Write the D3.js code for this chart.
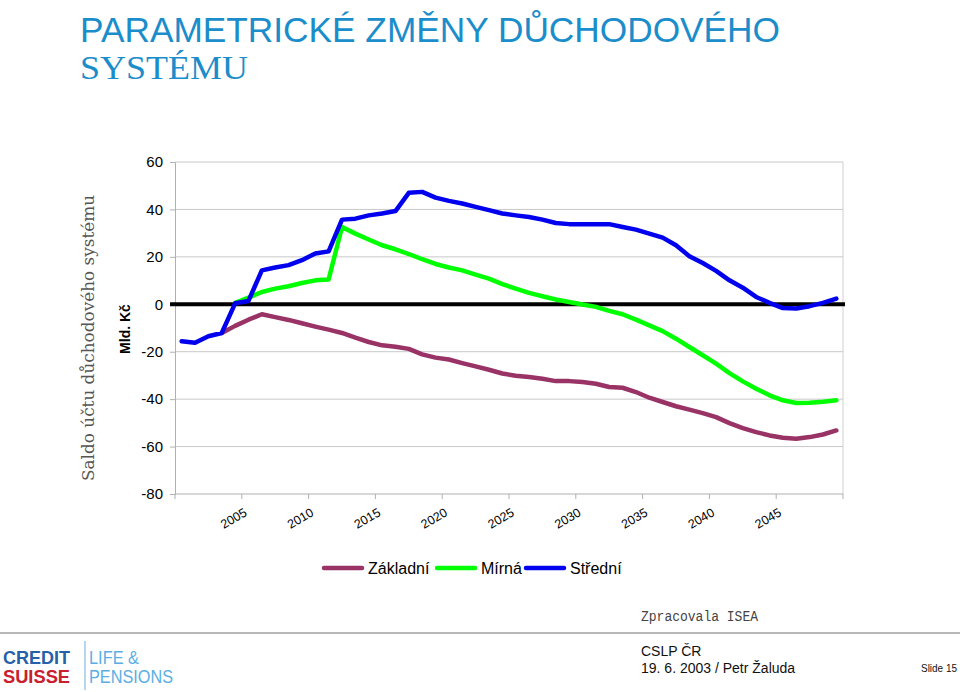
<!DOCTYPE html>
<html>
<head>
<meta charset="utf-8">
<script src="https://cdn.jsdelivr.net/npm/d3@7"></script>
<style>
  body { margin: 0; background: #fff; }
  svg { display: block; }
</style>
</head>
<body>
<script>
// categories: one per year
const years = d3.range(2000, 2050);
const tickYears = [2005, 2010, 2015, 2020, 2025, 2030, 2035, 2040, 2045];
const yTicks = [60, 40, 20, 0, -20, -40, -60, -80];

// saldo, mld. Kč
const zakladni = [null, null, null, -12.1, -9.1, -6.5, -4.2, -5.4, -6.6, -8.0,
  -9.4, -10.7, -12.1, -14.1, -15.9, -17.3, -17.9, -18.8, -21.1, -22.5,
  -23.3, -24.8, -26.2, -27.6, -29.2, -30.1, -30.7, -31.4, -32.4, -32.4,
  -32.8, -33.5, -34.9, -35.2, -37.0, -39.4, -41.2, -43.0, -44.4, -45.9,
  -47.6, -50.1, -52.2, -53.9, -55.3, -56.3, -56.7, -56.0, -54.9, -53.2];
const mirna = [null, null, null, null, 0.6, 2.8, 5.2, 6.6, 7.6, 9.0,
  10.1, 10.5, 32.6, 29.8, 27.3, 24.9, 23.2, 21.2, 19.0, 17.0,
  15.5, 14.3, 12.5, 10.8, 8.5, 6.6, 4.8, 3.4, 2.0, 1.0,
  -0.1, -1.1, -2.8, -4.2, -6.5, -8.9, -11.3, -14.5, -18.0, -21.5,
  -25.0, -29.0, -32.5, -35.6, -38.4, -40.5, -41.6, -41.5, -41.1, -40.5];
const stredni = [-15.6, -16.2, -13.5, -12.1, 0.4, 1.4, 14.3, 15.5, 16.5, 18.6,
  21.4, 22.3, 35.7, 36.1, 37.5, 38.3, 39.3, 47.0, 47.4, 45.0,
  43.6, 42.5, 41.1, 39.7, 38.3, 37.5, 36.8, 35.7, 34.3, 33.8,
  33.8, 33.8, 33.8, 32.6, 31.5, 29.8, 28.1, 24.9, 20.3, 17.4,
  14.1, 10.1, 7.0, 3.1, 0.6, -1.6, -1.8, -0.8, 0.6, 2.4];

const seriesNames = ["Základní", "Mírná", "Střední"];
const seriesColors = ["#993366", "#00ff00", "#0000ee"];
const series = [zakladni, mirna, stredni];

const W = 960, H = 692;
const plot = {left: 175, right: 843, top: 162, bottom: 494};

const svg = d3.select("body").append("svg")
  .attr("width", W).attr("height", H)
  .style("font-family", "Liberation Sans, Arial, sans-serif");

// title
const titleColor = "#1b8dca";
svg.append("text")
  .attr("x", 80).attr("y", 42)
  .attr("font-size", 35).attr("fill", titleColor)
  .attr("textLength", 700).attr("lengthAdjust", "spacingAndGlyphs")
  .text("PARAMETRICKÉ ZMĚNY DŮCHODOVÉHO");
svg.append("text")
  .attr("x", 80).attr("y", 79)
  .attr("font-size", 33).attr("fill", titleColor)
  .style("font-family", "Liberation Serif, Times New Roman, serif")
  .attr("textLength", 168).attr("lengthAdjust", "spacingAndGlyphs")
  .text("SYSTÉMU");

const x = d3.scaleBand().domain(years).range([plot.left, plot.right]);
const y = d3.scaleLinear().domain([-80, 60]).range([plot.bottom, plot.top]);

// grid
svg.append("g").selectAll("line")
  .data(yTicks.filter(v => v !== -80 && v !== 0))
  .enter().append("line")
  .attr("x1", plot.left).attr("x2", plot.right)
  .attr("y1", d => y(d)).attr("y2", d => y(d))
  .attr("stroke", "#c8c8c8").attr("stroke-width", 1);
svg.append("line")
  .attr("x1", plot.right).attr("x2", plot.right)
  .attr("y1", plot.top).attr("y2", plot.bottom)
  .attr("stroke", "#d0d0d0");

// y axis
const yAxis = svg.append("g")
  .attr("transform", "translate(" + plot.left + ",0)")
  .call(d3.axisLeft(y).tickValues(yTicks).tickFormat(d => String(d)).tickSize(5).tickPadding(7));
yAxis.select(".domain").attr("stroke", "#b0b0b0");
yAxis.selectAll(".tick line").attr("stroke", "#b0b0b0");
yAxis.selectAll("text").attr("font-size", 15).attr("fill", "#000")
  .style("font-family", "Liberation Sans, Arial, sans-serif");

// x axis
const xg = svg.append("g");
xg.append("line")
  .attr("x1", plot.left).attr("x2", plot.right)
  .attr("y1", plot.bottom).attr("y2", plot.bottom)
  .attr("stroke", "#b0b0b0");
xg.selectAll(".xt")
  .data(d3.range(2000, 2051, 5))
  .enter().append("line")
  .attr("x1", d => d === 2050 ? plot.right : x(d))
  .attr("x2", d => d === 2050 ? plot.right : x(d))
  .attr("y1", plot.bottom).attr("y2", plot.bottom + 5)
  .attr("stroke", "#b0b0b0");
xg.selectAll(".xl")
  .data(tickYears)
  .enter().append("text")
  .attr("transform", d => "translate(" + (x(d) + 6) + "," + (plot.bottom + 21) + ") rotate(-30)")
  .attr("text-anchor", "end")
  .attr("font-size", 12.5)
  .text(d => d);

// zero line
svg.append("line")
  .attr("x1", plot.left - 5).attr("x2", plot.right + 2)
  .attr("y1", y(0)).attr("y2", y(0))
  .attr("stroke", "#000").attr("stroke-width", 4);

// series
const line = d3.line()
  .defined(d => d != null)
  .x((d, i) => x(years[i]) + x.bandwidth() / 2)
  .y(d => y(d));

svg.append("g").selectAll("path")
  .data(series)
  .enter().append("path")
  .attr("d", line)
  .attr("fill", "none")
  .attr("stroke", (d, i) => seriesColors[i])
  .attr("stroke-width", 4.5)
  .attr("stroke-linejoin", "round")
  .attr("stroke-linecap", "round");

// axis titles
svg.append("text")
  .attr("transform", "translate(130,329) rotate(-90)")
  .attr("text-anchor", "middle")
  .attr("font-size", 14).attr("font-weight", "bold")
  .text("Mld. Kč");
svg.append("text")
  .attr("transform", "translate(94,338) rotate(-90)")
  .attr("text-anchor", "middle")
  .attr("font-size", 17).attr("fill", "#555")
  .attr("textLength", 286).attr("lengthAdjust", "spacingAndGlyphs")
  .style("font-family", "DejaVu Serif, serif")
  .style("font-weight", "200")
  .text("Saldo účtu důchodového systému");

// legend
const legendX = [322, 435, 524];
const legend = svg.append("g").selectAll("g")
  .data(seriesNames)
  .enter().append("g")
  .attr("transform", (d, i) => "translate(" + legendX[i] + ",568)");
legend.append("line")
  .attr("x1", 2).attr("x2", 40)
  .attr("stroke", (d, i) => seriesColors[i])
  .attr("stroke-width", 4.5).attr("stroke-linecap", "round");
legend.append("text")
  .attr("x", 46).attr("y", 6)
  .attr("font-size", 16)
  .text(d => d);

// footer
svg.append("text")
  .attr("x", 641).attr("y", 621)
  .attr("font-size", 14).attr("fill", "#444")
  .style("font-family", "Liberation Mono, monospace")
  .attr("textLength", 117).attr("lengthAdjust", "spacingAndGlyphs")
  .text("Zpracovala ISEA");
svg.append("line")
  .attr("x1", 0).attr("x2", W)
  .attr("y1", 633).attr("y2", 633)
  .attr("stroke", "#a0a0a0").attr("stroke-width", 1.5);

svg.append("text")
  .attr("x", 3).attr("y", 664)
  .attr("font-size", 19).attr("font-weight", "bold").attr("fill", "#2660a8")
  .attr("textLength", 67).attr("lengthAdjust", "spacingAndGlyphs")
  .text("CREDIT");
svg.append("text")
  .attr("x", 3).attr("y", 683)
  .attr("font-size", 19).attr("font-weight", "bold").attr("fill", "#c8202e")
  .attr("textLength", 67).attr("lengthAdjust", "spacingAndGlyphs")
  .text("SUISSE");
svg.append("line")
  .attr("x1", 85).attr("x2", 85).attr("y1", 641).attr("y2", 690)
  .attr("stroke", "#9cc9ea").attr("stroke-width", 1.5);
svg.append("text")
  .attr("x", 89).attr("y", 664)
  .attr("font-size", 19).attr("fill", "#5aaee3")
  .attr("textLength", 50).attr("lengthAdjust", "spacingAndGlyphs")
  .text("LIFE &");
svg.append("text")
  .attr("x", 89).attr("y", 683)
  .attr("font-size", 19).attr("fill", "#5aaee3")
  .attr("textLength", 84).attr("lengthAdjust", "spacingAndGlyphs")
  .text("PENSIONS");

svg.append("text")
  .attr("x", 641).attr("y", 656)
  .attr("font-size", 14).attr("fill", "#111")
  .text("CSLP ČR");
svg.append("text")
  .attr("x", 641).attr("y", 673)
  .attr("font-size", 14).attr("fill", "#111")
  .text("19. 6. 2003  / Petr Žaluda");
svg.append("text")
  .attr("x", 921).attr("y", 672)
  .attr("font-size", 11).attr("fill", "#111")
  .attr("textLength", 36).attr("lengthAdjust", "spacingAndGlyphs")
  .text("Slide 15");
</script>
</body>
</html>
